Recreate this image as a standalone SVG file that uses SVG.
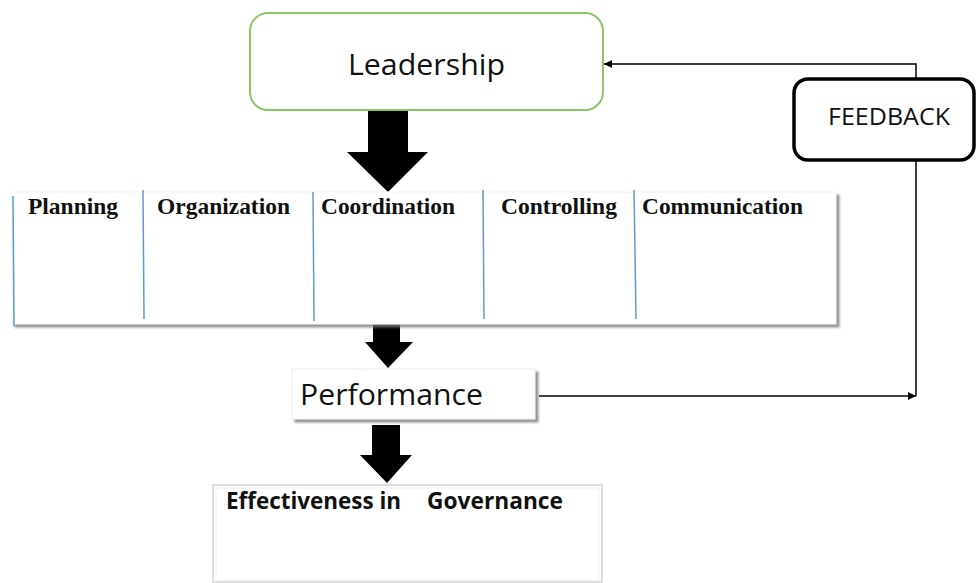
<svg xmlns="http://www.w3.org/2000/svg" width="976" height="583" viewBox="0 0 976 583">
<defs>
<style>
.cal{font-family:"Open Sans","Noto Sans","Liberation Sans",sans-serif;fill:#111}
.tim{font-family:"Liberation Serif","DejaVu Serif",serif;font-weight:bold;font-size:23px;fill:#111}
.div{stroke:#5b9bd5;stroke-width:1.5}
.big{fill:#000}
.fb{fill:none;stroke:#000;stroke-width:1.5}
</style>
<marker id="ah" viewBox="0 0 10 10" refX="10" refY="5" markerWidth="8" markerHeight="8" markerUnits="userSpaceOnUse" orient="auto">
<path d="M0,0 L10,5 L0,10 z" fill="#000"/>
</marker>
<filter id="sh" x="-5%" y="-5%" width="115%" height="130%">
<feDropShadow dx="3" dy="3" stdDeviation="1.2" flood-color="#777" flood-opacity="0.8"/>
</filter>
</defs>
<rect width="976" height="583" fill="#fff"/>

<g id="connectors">
<path class="big" d="M368,110 H408 V152 H428 L388,192 L347,152 H368 Z"/>
<path class="big" d="M373,318 H400 V342 H413 L388,368 L365,342 H373 Z"/>
<path class="big" d="M372,425 H400 V455 H412 L387,483 L360,455 H372 Z"/>
<path class="fb" d="M539,396 H916" marker-end="url(#ah)"/>
<path class="fb" d="M916,396 V64 H604" marker-end="url(#ah)"/>
</g>

<g id="leadership">
<rect x="250" y="13" width="353" height="97" rx="18" fill="#fff" stroke="#8cc56a" stroke-width="2"/>
<text class="cal" x="348" y="75" font-size="30" textLength="157" lengthAdjust="spacingAndGlyphs">Leadership</text>
</g>

<g id="functions">
<rect x="12" y="192" width="824" height="132" fill="#fff" stroke="#f2f2f2" stroke-width="1" filter="url(#sh)"/>
<line class="div" x1="13" y1="196" x2="14" y2="326"/>
<line class="div" x1="143" y1="190" x2="144" y2="319"/>
<line class="div" x1="313" y1="192" x2="314" y2="321"/>
<line class="div" x1="483" y1="190" x2="484" y2="319"/>
<line class="div" x1="634" y1="190" x2="636" y2="319"/>
<text class="tim" x="28" y="214" textLength="90" lengthAdjust="spacingAndGlyphs">Planning</text>
<text class="tim" x="157" y="214" textLength="133" lengthAdjust="spacingAndGlyphs">Organization</text>
<text class="tim" x="321" y="214" textLength="134" lengthAdjust="spacingAndGlyphs">Coordination</text>
<text class="tim" x="501" y="214" textLength="116" lengthAdjust="spacingAndGlyphs">Controlling</text>
<text class="tim" x="642" y="214" textLength="161" lengthAdjust="spacingAndGlyphs">Communication</text>
</g>

<g id="performance">
<rect x="292" y="369" width="243" height="50" fill="#fff" stroke="#eeeeee" stroke-width="1" filter="url(#sh)"/>
<text class="cal" x="300" y="405" font-size="29" textLength="183" lengthAdjust="spacingAndGlyphs">Performance</text>
</g>

<g id="effectiveness">
<rect x="213" y="485" width="389" height="97" fill="#fff" stroke="#dddddd" stroke-width="2"/>
<rect x="216" y="488" width="383" height="92" fill="none" stroke="#f0f0f0" stroke-width="1"/>
<text class="cal" x="226" y="509" font-size="23" font-weight="bold" textLength="175" lengthAdjust="spacingAndGlyphs">Effectiveness in</text>
<text class="cal" x="427" y="509" font-size="23" font-weight="bold" textLength="136" lengthAdjust="spacingAndGlyphs">Governance</text>
</g>

<g id="feedback">
<rect x="794" y="79" width="180" height="81" rx="14" fill="#fff" stroke="#000" stroke-width="3.5"/>
<text class="cal" x="828" y="125" font-size="23" textLength="122" lengthAdjust="spacingAndGlyphs">FEEDBACK</text>
</g>
</svg>
